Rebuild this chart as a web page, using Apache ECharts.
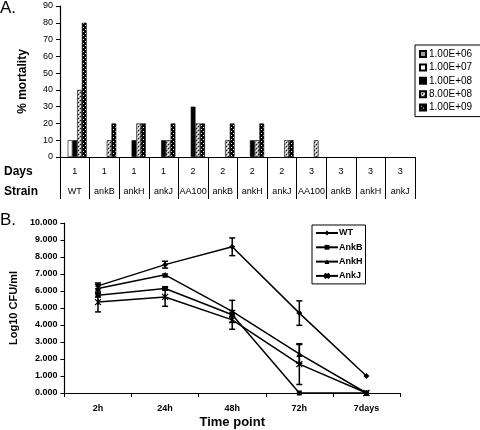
<!DOCTYPE html>
<html><head><meta charset="utf-8">
<script src="https://cdn.jsdelivr.net/npm/echarts@6/dist/echarts.min.js"></script>
<style>html,body{margin:0;padding:0;background:#fff}#c{width:480px;height:430px}</style>
</head><body><div id="c"></div>
<script>
// ---- Panel A data ----
const days = ['1','1','1','1','2','2','2','2','3','3','3','3'];
const strains = ['WT','ankB','ankH','ankJ','AA100','ankB','ankH','ankJ','AA100','ankB','ankH','ankJ'];
const doseNames = ['1.00E+06','1.00E+07','1.00E+08','8.00E+08','1.00E+09'];
const mort1e6 = [0,0,0,0,0,0,0,0,0,0,0,0];
const mort1e7 = [10,0,0,0,0,0,0,0,0,0,0,0];
const mort1e8 = [10,0,10,10,30,0,10,0,0,0,0,0];
const mort8e8 = [40,10,20,10,20,10,10,10,10,0,0,0];
const mort1e9 = [80,20,20,20,20,20,20,10,0,0,0,0];
// ---- Panel B data ----
const timePoints = ['2h','24h','48h','72h','7days'];
const lineNames = ['WT','AnkB','AnkH','AnkJ'];
const wtMean = [6.3,7.55,8.6,4.7,1.0];
const wtErr = [0.17,0.2,0.52,0.72,0];
const ankBMean = [5.75,6.15,4.6,0,0];
const ankBErr = [0.1,0.1,0.1,0,0];
const ankHMean = [6.15,6.95,4.8,2.3,0];
const ankHErr = [0.25,0.05,0.65,0.55,0];
const ankJMean = [5.35,5.65,4.3,1.7,0];
const ankJErr = [0.58,0.55,0.55,1.2,0];

function makePattern(size, draw){
  const c = document.createElement('canvas'); c.width = size; c.height = size;
  const g = c.getContext('2d'); draw(g); return {image: c, repeat: 'repeat'};
}
const hatch = makePattern(4, g => {
  g.fillStyle = '#b0b0b0'; g.fillRect(0,0,4,4);
  g.fillStyle = '#111'; g.fillRect(0,0,1,1); g.fillRect(2,2,1,1);
  g.fillStyle = '#fff'; g.fillRect(2,0,1,1); g.fillRect(0,2,1,1); g.fillRect(1,1,1,1); g.fillRect(3,3,1,1);
});
const dots = makePattern(4, g => {
  g.fillStyle = '#000'; g.fillRect(0,0,4,4);
  g.fillStyle = '#fff'; g.fillRect(1,1,1,1); g.fillRect(3,3,1,1);
});
const fills = ['#a0a0a0', '#ffffff', '#000000', hatch, dots];
const mortData = [mort1e6, mort1e7, mort1e8, mort8e8, mort1e9];
const catKeys = days.map((d,i) => d + '|' + strains[i]);

const barSeries = doseNames.map((n,k) => ({
  name: n, type: 'bar', xAxisIndex: 0, yAxisIndex: 0,
  data: mortData[k].map(v => v === 0 ? '-' : v), barGap: '0%', barCategoryGap: '20%',
  itemStyle: {color: fills[k], borderColor: '#000', borderWidth: 0.6},
  emphasis: {disabled: true}
}));

const means = [wtMean, ankBMean, ankHMean, ankJMean];
const errs = [wtErr, ankBErr, ankHErr, ankJErr];
const symbols = ['diamond', 'rect', 'triangle', 'path://M0,0L10,10M10,0L0,10M5,0L5,10'];
const symSizes = [6, 5, 6, 6];
const lineSeries = lineNames.map((n,k) => ({
  name: n, type: 'line', xAxisIndex: 1, yAxisIndex: 1, data: means[k],
  symbol: symbols[k], symbolSize: symSizes[k], showAllSymbol: true,
  lineStyle: {color: '#000', width: 1.5},
  itemStyle: {color: '#000', borderColor: '#000', borderWidth: k === 3 ? 1.2 : 0},
  emphasis: {disabled: true}, z: 4
}));
const errSeries = lineNames.map((n,k) => ({
  type: 'custom', xAxisIndex: 1, yAxisIndex: 1, silent: true, z: 3,
  data: means[k].map((m,i) => [i, m - errs[k][i], m + errs[k][i], errs[k][i]]),
  encode: {x: 0, y: [1, 2]},
  renderItem(params, api){
    if (api.value(3) <= 0) return null;
    const lo = api.coord([api.value(0), api.value(1)]);
    const hi = api.coord([api.value(0), api.value(2)]);
    const w = 3, st = {stroke: '#000', lineWidth: 1.5};
    return {type: 'group', children: [
      {type: 'line', shape: {x1: lo[0], y1: lo[1], x2: hi[0], y2: hi[1]}, style: st},
      {type: 'line', shape: {x1: lo[0]-w, y1: lo[1], x2: lo[0]+w, y2: lo[1]}, style: st},
      {type: 'line', shape: {x1: hi[0]-w, y1: hi[1], x2: hi[0]+w, y2: hi[1]}, style: st}
    ]};
  }
}));

const axisLine = {show: true, lineStyle: {color: '#000', width: 1.2}};
const chart = echarts.init(document.getElementById('c'), null, {renderer: 'canvas'});
chart.setOption({
  animation: false,
  backgroundColor: '#fff',
  textStyle: {fontFamily: 'Liberation Sans, Arial, sans-serif'},
  grid: [
    {left: 60, top: 6, width: 355, height: 151, containLabel: false},
    {left: 60, top: 223, width: 340, height: 170, containLabel: false}
  ],
  legend: [
    {data: doseNames, orient: 'vertical', left: 415, top: 45, icon: 'rect',
     itemWidth: 6, itemHeight: 6, itemGap: 3.4, borderColor: '#000', borderWidth: 1,
     padding: [4, 30, 4, 4], selectedMode: false,
     textStyle: {fontSize: 10, color: '#000', lineHeight: 10, padding: [0,0,0,-2]}},
    {data: lineNames, orient: 'vertical', left: 312, top: 225,
     itemWidth: 22, itemHeight: 6, itemGap: 4.3, borderColor: '#000', borderWidth: 1,
     padding: [3, 3, 3, 3], selectedMode: false,
     textStyle: {fontSize: 9, fontWeight: 'bold', color: '#000', lineHeight: 10, padding: [0,0,0,-4]}}
  ],
  xAxis: [
    {type: 'category', gridIndex: 0, data: catKeys, boundaryGap: true,
     axisLine: axisLine,
     axisTick: {show: true, interval: 0, length: 42, lineStyle: {color: '#000', width: 1}},
     axisLabel: {interval: 0, margin: 5, color: '#000',
       formatter: (v, i) => '{d|' + days[i] + '}\n{s|' + strains[i] + '}',
       rich: {d: {fontSize: 9, lineHeight: 20, color: '#000'}, s: {fontSize: 9, lineHeight: 20, color: '#000'}}},
     splitLine: {show: false}},
    {type: 'category', gridIndex: 1, data: timePoints, boundaryGap: true,
     axisLine: axisLine,
     axisTick: {show: true, interval: 0, length: 4, lineStyle: {color: '#000'}},
     axisLabel: {interval: 0, margin: 11, fontSize: 9, fontWeight: 'bold', color: '#000'},
     name: 'Time point', nameLocation: 'middle', nameGap: 23,
     nameTextStyle: {fontSize: 13, fontWeight: 'bold', color: '#000'},
     splitLine: {show: false}}
  ],
  yAxis: [
    {type: 'value', gridIndex: 0, min: 0, max: 90, interval: 10,
     axisLine: axisLine, axisTick: {show: true, length: 4, lineStyle: {color: '#000'}},
     axisLabel: {fontSize: 9, color: '#000', margin: 7},
     splitLine: {show: false},
     name: '% mortality', nameLocation: 'middle', nameGap: 31, nameRotate: 90,
     nameTextStyle: {fontSize: 12, fontWeight: 'bold', color: '#000'}},
    {type: 'value', gridIndex: 1, min: 0, max: 10, interval: 1,
     axisLine: axisLine, axisTick: {show: true, length: 4, lineStyle: {color: '#000'}},
     axisLabel: {fontSize: 9, fontWeight: 'bold', color: '#000', margin: 7, formatter: v => v.toFixed(3)},
     splitLine: {show: false},
     name: 'Log10 CFU/ml', nameLocation: 'middle', nameGap: 41, nameRotate: 90,
     nameTextStyle: {fontSize: 11, fontWeight: 'bold', color: '#000'}}
  ],
  graphic: [
    {type: 'text', left: 0, top: 0, style: {text: 'A.', fontSize: 17, fill: '#000', fontFamily: 'Liberation Sans, Arial'}},
    {type: 'text', left: 0, top: 212, style: {text: 'B.', fontSize: 17, fill: '#000', fontFamily: 'Liberation Sans, Arial'}},
    {type: 'text', left: 4, top: 166, style: {text: 'Days', fontSize: 12, fontWeight: 'bold', fill: '#000', fontFamily: 'Liberation Sans, Arial'}},
    {type: 'text', left: 4, top: 186, style: {text: 'Strain', fontSize: 12, fontWeight: 'bold', fill: '#000', fontFamily: 'Liberation Sans, Arial'}}
  ],
  series: [...barSeries, ...errSeries, ...lineSeries]
});
</script></body></html>
